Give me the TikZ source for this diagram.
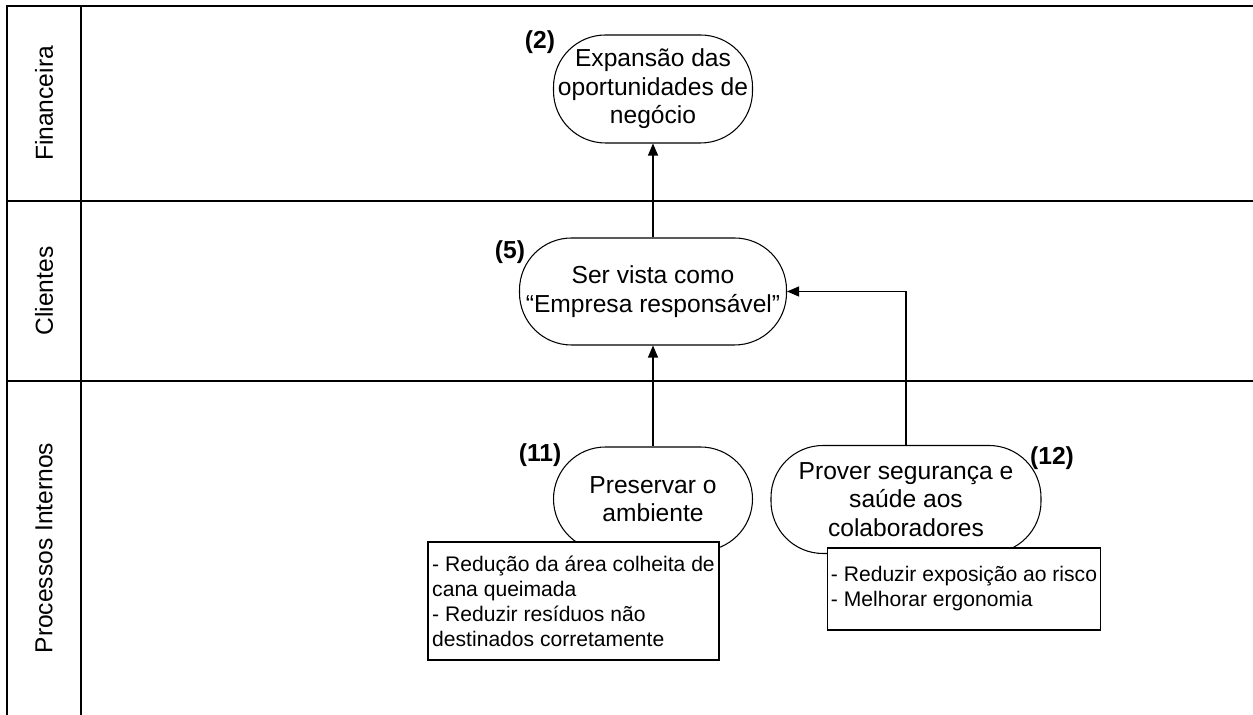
\documentclass[tikz,border=0pt]{standalone}
\usepackage{fontspec}
\setmainfont{Liberation Sans}
\usetikzlibrary{arrows.meta}

\tikzset{
  objetivo/.style={draw, rectangle, rounded corners=1.04cm, align=center, inner sep=0pt,
    font=\fontsize{14}{16.2}\selectfont},
  acoes/.style={draw, fill=white, align=left, inner xsep=2pt,
    font=\fontsize{12}{14.2}\selectfont},
  numero/.style={font=\fontsize{14}{16}\selectfont\bfseries},
  faixa/.style={rotate=90, font=\fontsize{14}{16}\selectfont},
  seta/.style={-{Triangle[length=2.4mm,width=2mm]}}
}

\begin{document}
\begin{tikzpicture}[line width=0.6pt]
			\useasboundingbox (0,0) rectangle (25.06,14.3);
			% faixas das perspectivas
			\draw[line width=0.8pt] (0.14,0) -- (0.14,14.18) -- (25.06,14.18);
			\draw[line width=0.8pt] (1.62,0) -- (1.62,14.18);
			\draw[line width=0.8pt] (0.14,10.28) -- (25.06,10.28);
			\draw[line width=0.8pt] (0.14,6.68) -- (25.06,6.68);
			\node[faixa] (fin) at (0.88,12.23) {Financeira};
			\node[faixa] (cli) at (0.88,8.48) {Clientes};
			\node[faixa] (proc) at (0.88,3.34) {Processos Internos};

			% objetivos
			\node[objetivo, minimum width=3.98cm, minimum height=2.16cm] (obj2) at (13.06,12.52) {Expansão das\\oportunidades de\\negócio};
			\node[objetivo, minimum width=5.34cm, minimum height=2.14cm] (obj5) at (13.06,8.47) {Ser vista como\\“Empresa responsável”};
			\node[objetivo, minimum width=3.98cm, minimum height=2.08cm] (obj11) at (13.06,4.32) {Preservar o\\ambiente};
			\node[objetivo, minimum width=5.4cm, minimum height=2.16cm] (obj12) at (18.12,4.31) {Prover segurança e\\saúde aos\\colaboradores};

			\node[numero] (n2) at (10.8,13.46) {(2)};
			\node[numero] (n5) at (10.2,9.26) {(5)};
			\node[numero] (n11) at (10.8,5.2) {(11)};
			\node[numero] (n12) at (21.04,5.14) {(12)};

			% acoes
			\node[acoes, minimum width=5.82cm, minimum height=2.36cm] (acoes11) at (11.47,2.28) {- Redução da área colheita de\\cana queimada\\- Reduzir resíduos não\\destinados corretamente};
			\node[acoes, minimum width=5.36cm, minimum height=1.64cm] (acoes12) at (19.28,2.52) {- Reduzir exposição ao risco\\- Melhorar ergonomia};

			\draw[seta] (obj5.north) -- (obj2.south);
			\draw[seta] (obj11.north) -- (obj5.south);
			\draw[seta] (obj12.north) |- (obj5.east);
		\end{tikzpicture}
\end{document}
